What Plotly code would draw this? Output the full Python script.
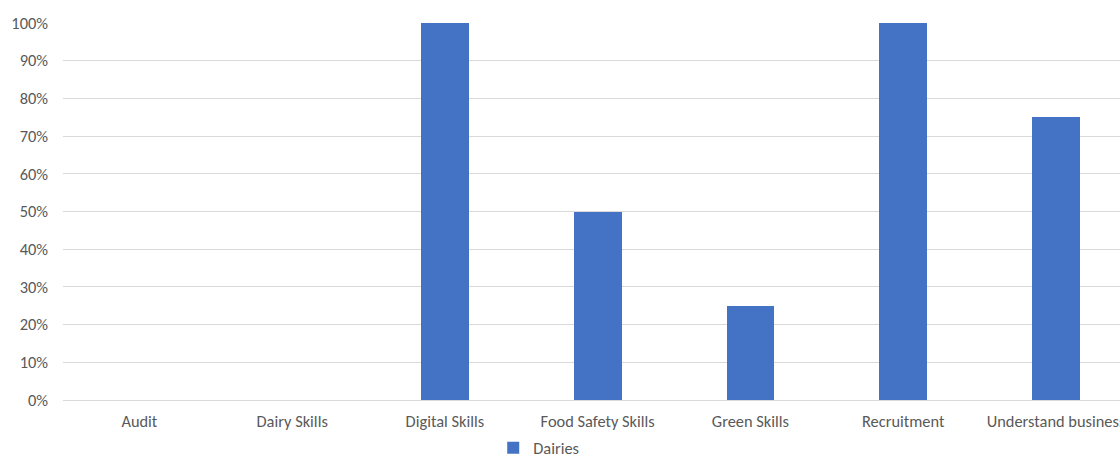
import plotly.graph_objects as go

categories = ["Audit", "Dairy Skills", "Digital Skills", "Food Safety Skills",
              "Green Skills", "Recruitment", "Understand business"]
dairies = [0.0, 0.0, 1.0, 0.5, 0.25, 1.0, 0.75]
ytick_vals = [0, 0.1, 0.2, 0.3, 0.4, 0.5, 0.6, 0.7, 0.8, 0.9, 1.0]
ytick_text = ["0%", "10%", "20%", "30%", "40%", "50%", "60%", "70%", "80%", "90%", "100%"]

fig = go.Figure()
fig.add_trace(go.Bar(
    x=list(range(len(categories))), y=dairies, name="Dairies",
    marker=dict(color="#4472C4", line=dict(width=0)),
    width=0.312,
))

font_family = "Carlito, Calibri, 'Open Sans', 'Liberation Sans', sans-serif"
FS = 16.4
fig.update_layout(
    width=1120, height=457,
    margin=dict(l=63, r=0, t=23, b=57, autoexpand=False),
    plot_bgcolor="white", paper_bgcolor="white",
    font=dict(family=font_family, size=FS, color="#595959"),
    showlegend=True,
    legend=dict(orientation="h", x=0.481, xanchor="center", xref="container",
                y=1 - 448 / 457, yanchor="middle", yref="container",
                font=dict(size=FS, color="#595959"),
                itemwidth=30, traceorder="normal"),
    bargap=0,
)
fig.update_xaxes(
    tickmode="array", tickvals=list(range(len(categories))), ticktext=categories,
    range=[-0.5, 6.419], showgrid=False, showline=True, linecolor="#d9d9d9",
    linewidth=1, ticks="", zeroline=False, ticklabelstandoff=6,
    ticklabeloverflow="allow",
    tickfont=dict(size=FS, color="#595959"),
)
fig.update_yaxes(
    range=[0, 1.0], tickmode="array", tickvals=ytick_vals, ticktext=ytick_text,
    showgrid=True, gridcolor="#d9d9d9", gridwidth=1, zeroline=False,
    showline=False, ticks="", ticklabelstandoff=14,
    tickfont=dict(size=FS, color="#595959"),
)
fig.write_html("out.html")
